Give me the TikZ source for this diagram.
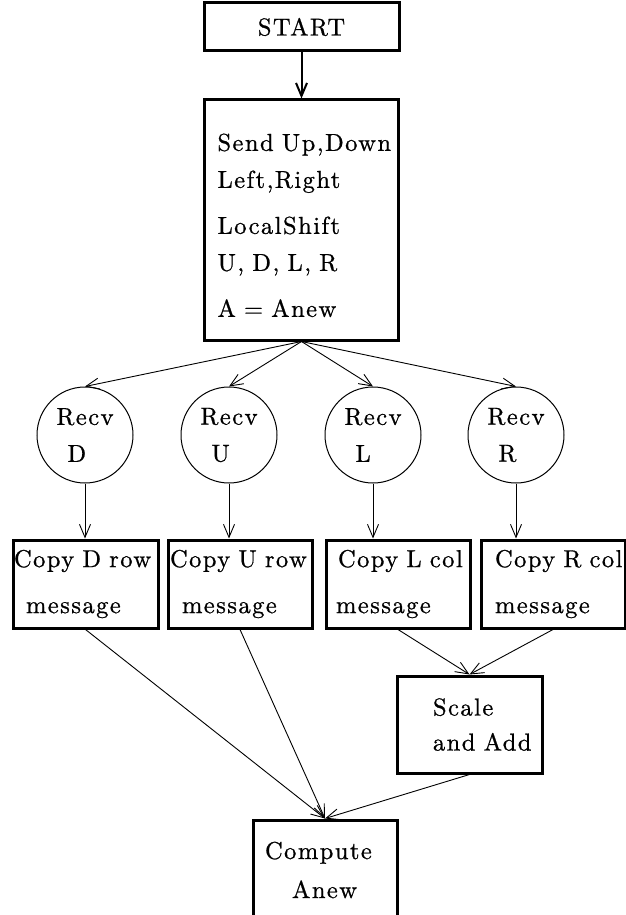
\documentclass[tikz,border=0pt]{standalone}
\usepackage{fontspec}
\setmainfont{lmroman10-regular.otf}[LetterSpace=6, FakeBold=0.8]
\usetikzlibrary{arrows.meta, positioning}
\tikzset{
>={Straight Barb[length=13pt,width=11pt]}, % open v-shaped heads
every node/.style={font=\fontsize{24.5}{37}\selectfont},
box/.style={draw, rectangle, line width=3pt, align=left}, % thick frames
recv/.style={draw, circle, line width=1pt, minimum size=96pt, inner sep=0pt, align=left},
link/.style={->, line width=0.9pt},
}
\newcommand{\recvtext}[1]{Recv\\\hspace*{11pt}#1}

\begin{document}
\begin{tikzpicture}[x=1pt, y=-1pt]
\useasboundingbox (0,0) rectangle (626,915);
\clip (0,0) rectangle (626,915);
\node[box, align=center, minimum width=195pt, minimum height=48pt] (start) at (301.5,27) {START};
\node[box, below=46pt of start, minimum height=240pt, inner xsep=13pt, text width=168pt] (shift)
    {\rule{0pt}{28pt}Send~Up,Down\\Left,Right\\[9pt]LocalShift\\U,~D,~L,~R\\[9pt]A~=~Anew};
% receive states
\node[recv] (rd) at (85,435) {\recvtext{D}};
\node[recv, right=47pt of rd] (ru) {\recvtext{U}};
\node[recv, right=47pt of ru] (rl) {\recvtext{L}};
\node[recv, right=46pt of rl] (rr) {\recvtext{R}};
% copy boxes
\node[box, minimum height=88pt, inner xsep=1pt, text width=143pt] (cd) at (85.5,584)
    {Copy~D~row\\[9pt]\hspace*{12pt}message};
\node[box, minimum height=88pt, inner xsep=2pt, text width=140pt] (cu) at (240,584)
    {Copy~U~row\\[9pt]\hspace*{12pt}message};
\node[box, minimum height=88pt, inner xsep=10pt, text width=124pt] (cl) at (398,584)
    {\hspace*{2pt}Copy~L~col\\[9pt]message};
\node[box, minimum height=88pt, inner xsep=14pt, text width=116pt] (cr) at (553,584)
    {Copy~R~col\\[9pt]message};
\node[box, minimum height=97pt, inner xsep=36pt, text width=73pt] (scale) at (469.5,724.5)
    {Scale\\[-2pt]and~Add};
\node[box, minimum height=100pt, inner xsep=12pt, text width=120pt] (compute) at (325,870)
    {Compute\\[2pt]\hspace*{27pt}Anew};
\draw[link, line width=2pt] (start) -- (shift);
\foreach \r in {rd,ru,rl,rr}
    \draw[link] (shift.south) -- (\r.north);
\foreach \r/\c in {rd/cd,ru/cu,rl/cl,rr/cr}
    \draw[link] (\r) -- (\r |- \c.north);
\draw
    (cl.south) edge[link] (scale.north)
    (cr.south) edge[link] (scale.north)
    (cd.south) edge[link] (compute.north)
    (cu.south) edge[link] (compute.north)
    (scale.south) edge[link] (compute.north)
    ;
\end{tikzpicture}
\end{document}
